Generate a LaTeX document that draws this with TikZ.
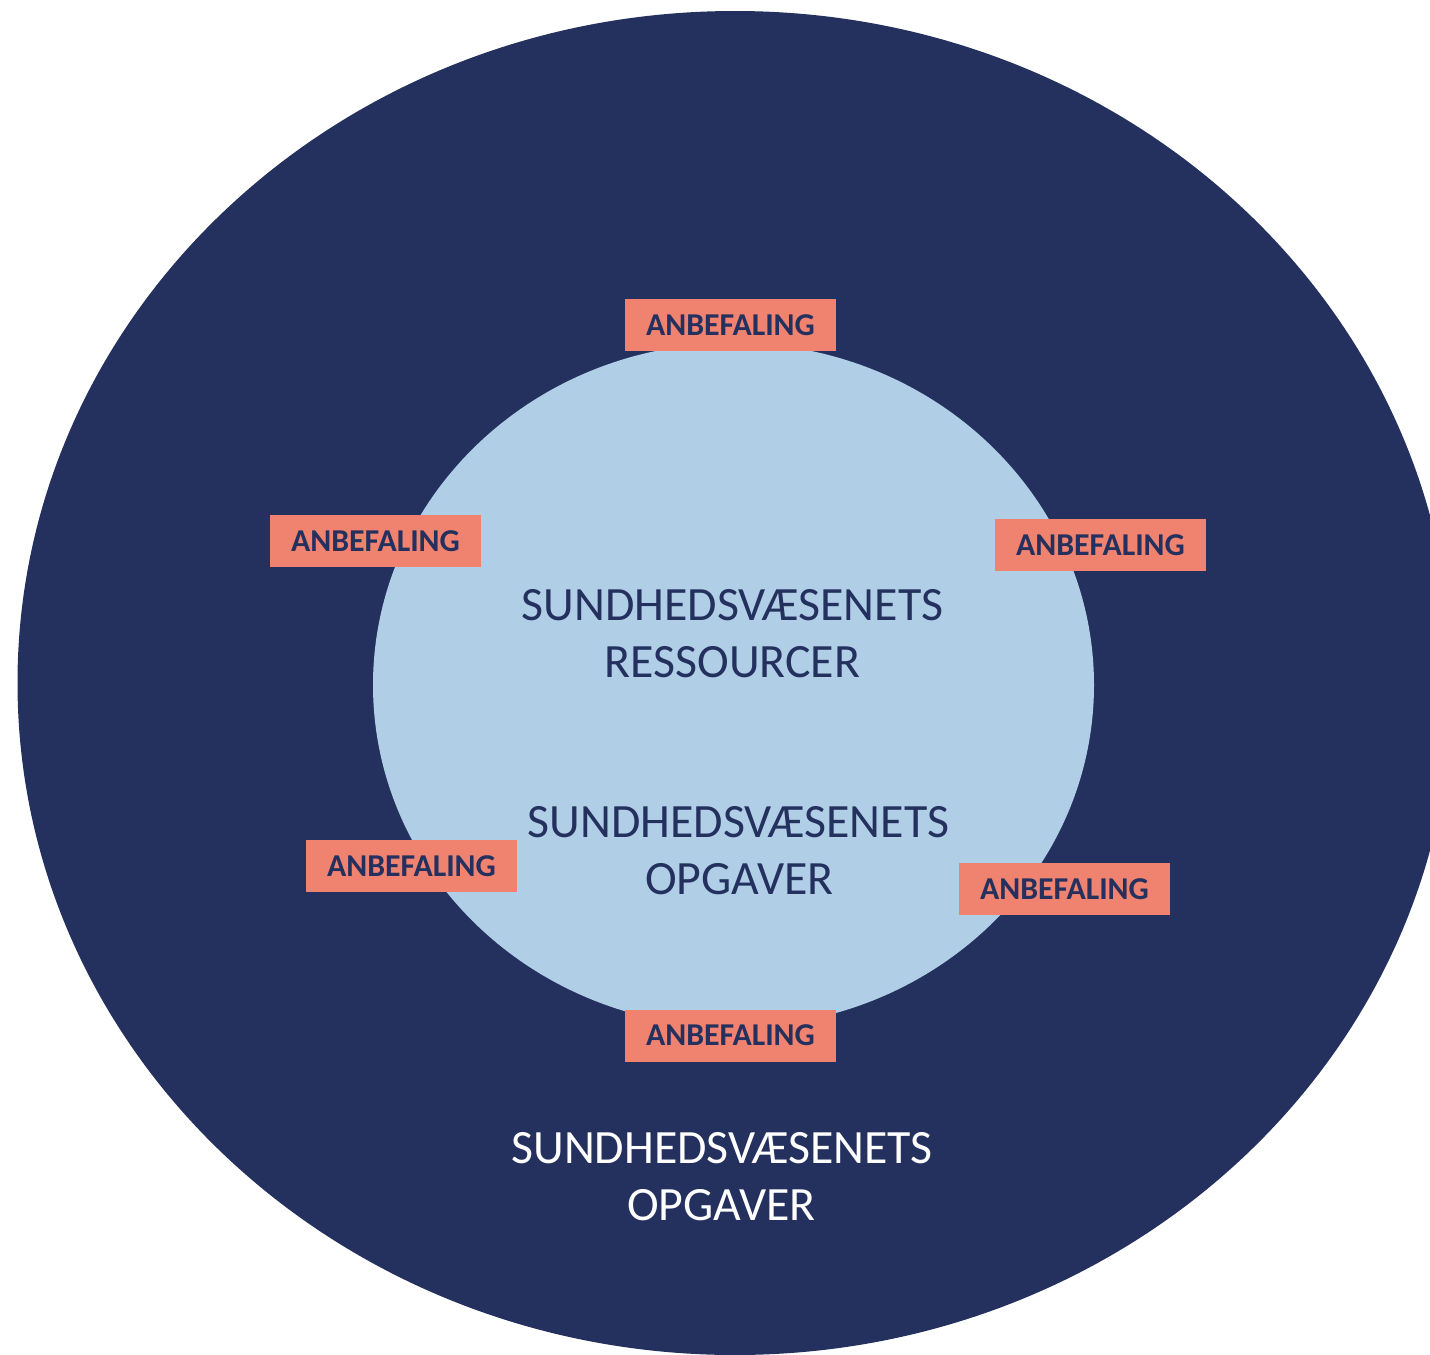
\documentclass[tikz,border=0pt]{standalone}
\usepackage{fontspec}
\setmainfont{Carlito}
\definecolor{navy}{RGB}{36,48,94}
\definecolor{lightblue}{RGB}{176,206,230}
\definecolor{salmon}{RGB}{240,130,112}
\tikzset{
  recbox/.style={fill=salmon, text=navy, minimum width=211pt, minimum height=52pt,
    inner sep=0pt, font=\fontsize{31.8}{36}\selectfont\bfseries},
  bigtext/.style={anchor=base, inner sep=0pt, font=\fontsize{47.8}{55}\selectfont}
}
\begin{document}
\begin{tikzpicture}[x=1pt,y=-1pt]
\useasboundingbox (0,0) rectangle (1430,1355);
\clip (0,0) rectangle (1430,1355);
\fill[navy] (735,683) ellipse [x radius=717.5, y radius=672];
\fill[lightblue] (733.5,685) ellipse [x radius=360.5, y radius=342];
\node[bigtext, text=navy] (r1) at (732.5,620) {SUNDHEDSVÆSENETS};
\node[bigtext, text=navy] (r2) at (732.5,677) {RESSOURCER};
\node[bigtext, text=navy] (o1) at (738.5,837) {SUNDHEDSVÆSENETS};
\node[bigtext, text=navy] (o2) at (739.5,894) {OPGAVER};
\node[bigtext, text=white] (w1) at (722,1163) {SUNDHEDSVÆSENETS};
\node[bigtext, text=white] (w2) at (721.5,1220) {OPGAVER};
\node[recbox] (a1) at (730.5,325) {ANBEFALING};
\node[recbox] (a2) at (375.5,541) {ANBEFALING};
\node[recbox] (a3) at (1100.5,545) {ANBEFALING};
\node[recbox] (a4) at (411.5,866) {ANBEFALING};
\node[recbox] (a5) at (1064.5,889) {ANBEFALING};
\node[recbox] (a6) at (730.5,1035.5) {ANBEFALING};
\end{tikzpicture}
\end{document}
